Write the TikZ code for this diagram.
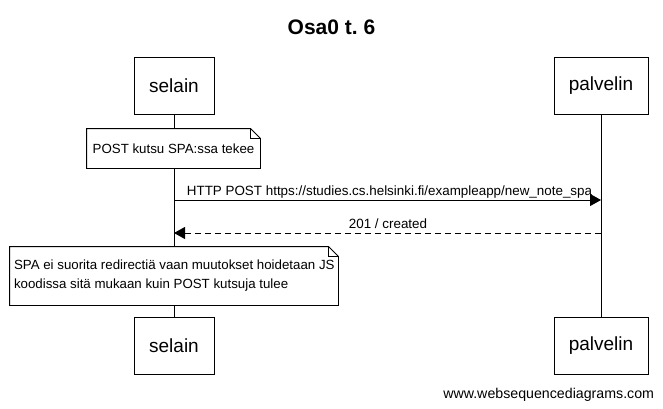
\documentclass[tikz,border=0pt]{standalone}
\usepackage{fontspec}
\setmainfont{Liberation Sans}
\usetikzlibrary{arrows.meta}
\frenchspacing
\begin{document}
\begin{tikzpicture}[x=1pt,y=-1pt,line width=0.9pt,
  actor/.style={draw,fill=white,minimum height=57pt,inner sep=0pt,font=\fontsize{19}{22}\selectfont},
  notebox/.style={inner sep=0pt,font=\fontsize{13.3}{19}\selectfont},
  msg/.style={-{Triangle[length=11pt,width=12pt]}},
  msglabel/.style={font=\fontsize{13.4}{15}\selectfont,inner sep=0pt}]
\useasboundingbox (0,0) rectangle (663,409);
\fill[white] (0,0) rectangle (663,409);
\node[font=\bfseries\fontsize{21}{24}\selectfont] (title) at (331.5,27) {Osa0 t. 6};
% actors
\node[actor,minimum width=80pt] (s1) at (174,85.5) {selain};
\node[actor,minimum width=94pt] (p1) at (601,85.5) {palvelin};
\node[actor,minimum width=80pt] (s2) at (174,346) {selain};
\node[actor,minimum width=94pt] (p2) at (601,346) {palvelin};
\draw (s1.south) -- (s2.north);
\draw (p1.south) -- (p2.north);
% note 1
\node[notebox,minimum width=173pt,minimum height=39pt] (n1) at (173.5,148.5) {};
\filldraw[fill=white] (n1.south west) -- (n1.north west) -- ([xshift=-10pt]n1.north east) -- ([yshift=-10pt]n1.north east) -- (n1.south east) -- cycle;
\draw ([xshift=-10pt]n1.north east) -- ([xshift=-10pt,yshift=-10pt]n1.north east) -- ([yshift=-10pt]n1.north east);
\node[notebox] (t1) at (n1.center) {POST kutsu SPA:ssa tekee};
% messages
\coordinate (a1s) at (s1.south |- 0,200);
\coordinate (a1e) at (p1.south |- 0,200);
\draw[msg] (a1s) -- (a1e);
\node[msglabel,anchor=base] (l1) at (389.5,195) {HTTP POST https://studies.cs.helsinki.fi/exampleapp/new\_note\_spa};
\coordinate (a2s) at (p1.south |- 0,233);
\coordinate (a2e) at (s1.south |- 0,233);
\draw[msg,dash pattern=on 6pt off 4pt] (a2s) -- (a2e);
\node[msglabel,anchor=base] (l2) at (388,228) {201 / created};
% note 2
\node[notebox,minimum width=328pt,minimum height=58pt] (n2) at (174,276) {};
\filldraw[fill=white] (n2.south west) -- (n2.north west) -- ([xshift=-10pt]n2.north east) -- ([yshift=-10pt]n2.north east) -- (n2.south east) -- cycle;
\draw ([xshift=-10pt]n2.north east) -- ([xshift=-10pt,yshift=-10pt]n2.north east) -- ([yshift=-10pt]n2.north east);
\node[notebox,align=left,anchor=west] (t2) at ([xshift=4pt]n2.west) {SPA ei suorita redirectiä vaan muutokset hoidetaan JS\\koodissa sitä mukaan kuin POST kutsuja tulee};
% footer
\node[anchor=east,inner sep=0pt,font=\fontsize{14.2}{16}\selectfont] (foot) at (654.5,395) {www.websequencediagrams.com};
\end{tikzpicture}
\end{document}
